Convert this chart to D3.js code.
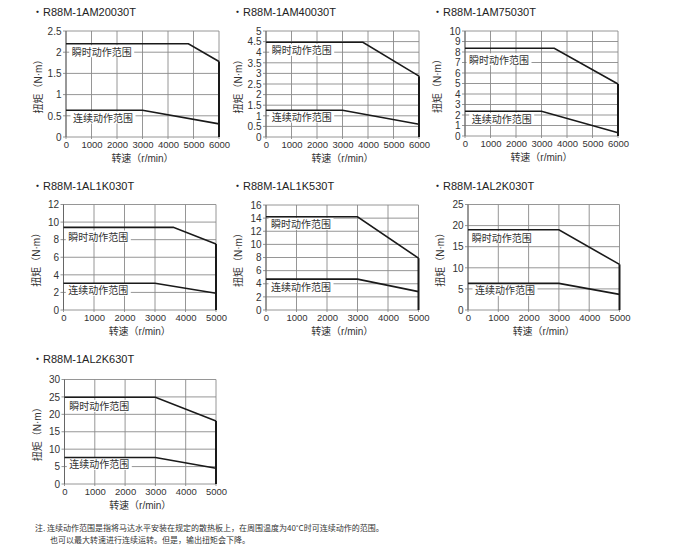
<!DOCTYPE html>
<html>
<head>
<meta charset="utf-8">
<script src="https://cdn.jsdelivr.net/npm/d3@7"></script>
<style>
  html, body { margin: 0; padding: 0; background: #fff; }
  svg text { font-family: "Liberation Sans", Arial, "Noto Sans CJK SC", sans-serif; }
</style>
</head>
<body>
<svg id="chart" width="673" height="555"></svg>
<script>
// ---------- data ----------
const titles = ["R88M-1AM20030T", "R88M-1AM40030T", "R88M-1AM75030T",
                "R88M-1AL1K030T", "R88M-1AL1K530T", "R88M-1AL2K030T",
                "R88M-1AL2K630T"];
const xMaxes = [6000, 6000, 6000, 5000, 5000, 5000, 5000];
const xTickStep = 1000;
const yMaxes = [2.5, 5, 10, 12, 16, 25, 30];
const yTickSteps = [0.5, 0.5, 1, 2, 2, 5, 5];
const peakSeries = [
  [[0, 2.2], [4800, 2.2], [6000, 1.78]],
  [[0, 4.47], [3800, 4.47], [6000, 2.87]],
  [[0, 8.36], [3500, 8.36], [6000, 4.95]],
  [[0, 9.4], [3600, 9.4], [5000, 7.5]],
  [[0, 14.2], [3000, 14.2], [5000, 7.9]],
  [[0, 19.0], [3000, 19.0], [5000, 10.8]],
  [[0, 24.9], [3000, 24.9], [5000, 18.1]]
];
const contSeries = [
  [[0, 0.63], [3000, 0.63], [6000, 0.31]],
  [[0, 1.26], [3000, 1.26], [6000, 0.6]],
  [[0, 2.36], [3000, 2.36], [6000, 0.3]],
  [[0, 3.05], [3000, 3.05], [5000, 1.9]],
  [[0, 4.7], [3000, 4.7], [5000, 2.8]],
  [[0, 6.3], [3000, 6.3], [5000, 3.7]],
  [[0, 7.6], [3000, 7.6], [5000, 4.5]]
];
const peakLabel = "瞬时动作范围";
const contLabel = "连续动作范围";
const yAxisLabel = "扭矩（N·m）";
const xAxisLabel = "转速（r/min）";
const noteLines = [
  "注. 连续动作范围是指将马达水平安装在规定的散热板上，在周围温度为40˚C时可连续动作的范围。",
  "也可以最大转速进行连续运转。但是，输出扭矩会下降。"
];

// ---------- layout (positions / sizes only) ----------
const plots = [
  {left: 66,   top: 31,    w: 153,   h: 106},
  {left: 266,  top: 31,    w: 153,   h: 106},
  {left: 465,  top: 31,    w: 153,   h: 105},
  {left: 63.5, top: 204.5, w: 152.5, h: 105.5},
  {left: 266,  top: 205,   w: 152.5, h: 105},
  {left: 468,  top: 204.5, w: 151.5, h: 105.5},
  {left: 64.5, top: 379.5, w: 151.5, h: 104.5}
];
const titlePos = [[36, 13.5], [236, 13.5], [436, 13.5], [36, 187.5], [236, 187.5], [436, 187.5], [36, 360.5]];
const peakLabelPos = [[5.7, 22], [5.7, 20.7], [4, 30], [4.8, 33.8], [5, 20.7], [3.7, 34.5], [4.8, 28.2]];
const contLabelPos = [[7, 88.3], [5.7, 87.3], [6.7, 89.7], [4.8, 87.2], [5, 83.3], [7, 87.2], [4.8, 86.2]];

const svg = d3.select("#chart");
const gridColor = "#8a8a8a";
const latin = '"Liberation Sans", Arial, sans-serif';
const mixed = '"Liberation Sans", Arial, "Noto Sans CJK SC", sans-serif';
const cjk = '"Noto Sans CJK SC", sans-serif';
const fmt = v => String(+v.toFixed(2));

titles.forEach((title, i) => {
  const p = plots[i];
  const g = svg.append("g").attr("transform", `translate(${p.left},${p.top})`);
  const x = d3.scaleLinear().domain([0, xMaxes[i]]).range([0, p.w]);
  const y = d3.scaleLinear().domain([0, yMaxes[i]]).range([p.h, 0]);
  const xTicks = d3.range(0, xMaxes[i] + 1e-9, xTickStep);
  const yTicks = d3.range(0, yMaxes[i] + 1e-9, yTickSteps[i]);

  // grid
  g.append("g").selectAll("line").data(xTicks).join("line")
    .attr("x1", d => x(d)).attr("x2", d => x(d))
    .attr("y1", 0).attr("y2", p.h + 2)
    .attr("stroke", gridColor).attr("stroke-width", 0.9);
  g.append("g").selectAll("line").data(yTicks).join("line")
    .attr("x1", -3).attr("x2", p.w)
    .attr("y1", d => y(d)).attr("y2", d => y(d))
    .attr("stroke", gridColor).attr("stroke-width", 0.9);

  // axes (tick labels)
  const yAxis = d3.axisLeft(y).tickValues(yTicks).tickSize(0).tickPadding(4.5).tickFormat(fmt);
  const yg = g.append("g").call(yAxis);
  yg.select(".domain").remove();
  yg.selectAll("text").attr("font-size", 10).attr("fill", "#333").style("font-family", latin);

  const xAxis = d3.axisBottom(x).tickValues(xTicks).tickSize(0).tickPadding(4).tickFormat(d3.format("d"));
  const xg = g.append("g").attr("transform", `translate(0,${p.h})`).call(xAxis);
  xg.select(".domain").remove();
  xg.selectAll("text").attr("font-size", 9.5).attr("fill", "#333").style("font-family", latin);

  // left axis line
  g.append("line").attr("x1", 0).attr("x2", 0).attr("y1", 0).attr("y2", p.h)
    .attr("stroke", "#666").attr("stroke-width", 1);

  // region labels with white background
  [[peakLabel, peakLabelPos[i]], [contLabel, contLabelPos[i]]].forEach(([txt, pos]) => {
    const t = g.append("text").text(txt)
      .attr("x", pos[0]).attr("y", pos[1])
      .attr("dominant-baseline", "middle")
      .attr("font-size", 10).attr("fill", "#333")
      .style("font-family", cjk);
    const bb = t.node().getBBox();
    g.insert("rect", () => t.node())
      .attr("x", bb.x - 2.5).attr("y", bb.y + 1.5)
      .attr("width", bb.width + 5).attr("height", bb.height - 3)
      .attr("fill", "#fff");
  });

  // curves
  const line = d3.line().x(d => x(d[0])).y(d => y(d[1]));
  [peakSeries[i], contSeries[i]].forEach(s => {
    g.append("path").datum(s).attr("d", line)
      .attr("fill", "none").attr("stroke", "#1a1a1a").attr("stroke-width", 1.6);
  });
  // vertical limit at max speed
  const last = peakSeries[i][peakSeries[i].length - 1];
  g.append("line")
    .attr("x1", x(last[0])).attr("x2", x(last[0]))
    .attr("y1", y(last[1])).attr("y2", y(0))
    .attr("stroke", "#1a1a1a").attr("stroke-width", 2);

  // axis titles
  g.append("text").text(yAxisLabel)
    .attr("transform", `translate(-26.5,${p.h / 2}) rotate(-90)`)
    .attr("text-anchor", "middle").attr("dominant-baseline", "middle")
    .attr("font-size", 10).attr("fill", "#333")
    .style("font-family", mixed);
  g.append("text").text(xAxisLabel)
    .attr("x", p.w / 2).attr("y", p.h + 22.5)
    .attr("text-anchor", "middle").attr("dominant-baseline", "middle")
    .attr("font-size", 10).attr("fill", "#333")
    .style("font-family", mixed);

  // title
  svg.append("text").text("・" + title)
    .attr("x", titlePos[i][0] - 4).attr("y", titlePos[i][1])
    .attr("dominant-baseline", "middle")
    .attr("font-size", 11).attr("fill", "#222")
    .style("font-family", mixed);
});

// footnote
svg.append("text").text(noteLines[0])
  .attr("x", 35).attr("y", 529).attr("dominant-baseline", "middle")
  .attr("font-size", 8).attr("fill", "#333")
  .style("font-family", cjk);
svg.append("text").text(noteLines[1])
  .attr("x", 50).attr("y", 541).attr("dominant-baseline", "middle")
  .attr("font-size", 8).attr("fill", "#333")
  .style("font-family", cjk);
</script>
</body>
</html>
